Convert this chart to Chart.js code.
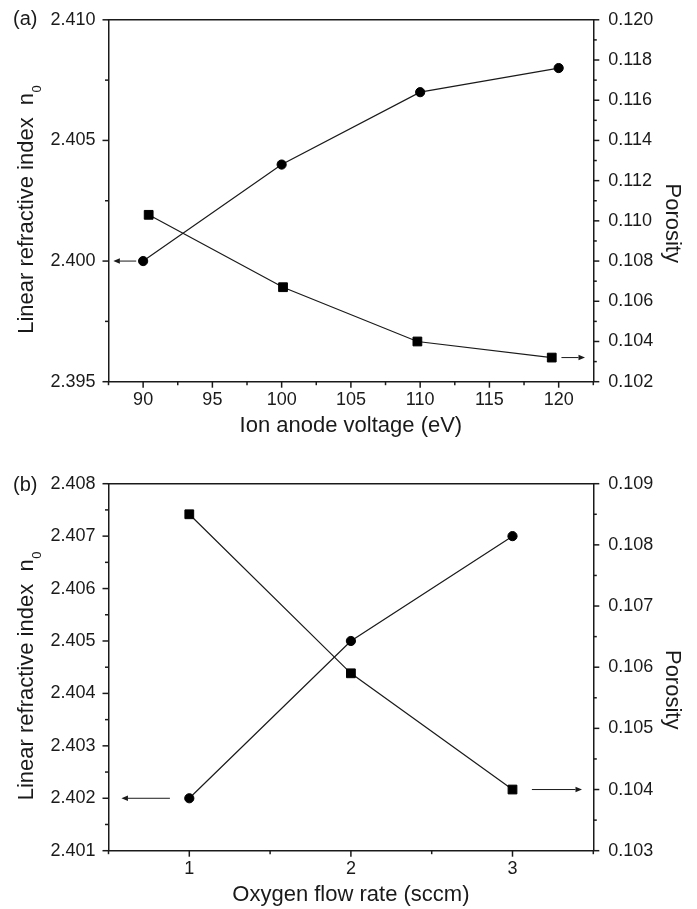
<!DOCTYPE html>
<html>
<head>
<meta charset="utf-8">
<title>Refractive index and porosity</title>
<script src="https://cdn.jsdelivr.net/npm/chart.js@4.4.1/dist/chart.umd.min.js"></script>
<style>
  html, body { margin: 0; padding: 0; background: #fff; }
  #wrap { position: relative; width: 697px; height: 909px; overflow: hidden; }
  canvas { position: absolute; left: 0; display: block; }
</style>
</head>
<body>
<div id="wrap">
  <canvas id="chartA" width="697" height="445" style="top:0"></canvas>
  <canvas id="chartB" width="697" height="464" style="top:445px"></canvas>
</div>
<script>
// ---- (a) ion anode voltage series ----
const voltage = [90, 100, 110, 120];
const indexVsVoltage = [2.400, 2.404, 2.407, 2.408];
const voltagePorosity = [90.4, 100.1, 109.8, 119.5];
const porosityVsVoltage = [0.1103, 0.1067, 0.1040, 0.1032];

// ---- (b) oxygen flow rate series ----
const oxygenFlow = [1, 2, 3];
const indexVsFlow = [2.402, 2.405, 2.407];
const porosityVsFlow = [0.1085, 0.1059, 0.1040];

// ---- tick labels ----
const voltageTicks = [90, 95, 100, 105, 110, 115, 120];
const indexTicksA = [2.395, 2.400, 2.405, 2.410];
const porosityTicksA = [0.102, 0.104, 0.106, 0.108, 0.110, 0.112, 0.114, 0.116, 0.118, 0.120];
const flowTicks = [1, 2, 3];
const indexTicksB = [2.401, 2.402, 2.403, 2.404, 2.405, 2.406, 2.407, 2.408];
const porosityTicksB = [0.103, 0.104, 0.105, 0.106, 0.107, 0.108, 0.109];

const FONT = "'Liberation Sans', Arial, Helvetica, sans-serif";
const INK = '#1a1a1a';

const pairs = (xs, ys) => xs.map((x, i) => ({ x, y: ys[i] }));

// minor ticks sit halfway between majors, out to the axis ends
function minorValues(majors, min, max) {
  const step = majors[1] - majors[0];
  const out = [];
  for (let i = -1; i < majors.length; i++) {
    const v = majors[0] + (i + 0.5) * step;
    if (v >= min - 1e-9 && v <= max + 1e-9) out.push(v);
  }
  return out;
}

// frame top edge, outward tick marks, axis arrows, y titles, panel letter
const panelDecor = {
  id: 'panelDecor',
  afterDraw(chart, args, opts) {
    const { ctx, chartArea: a, scales } = chart;
    ctx.save();
    ctx.strokeStyle = INK;
    ctx.fillStyle = INK;
    ctx.lineWidth = 1.5;
    ctx.lineCap = 'butt';

    ctx.beginPath();
    ctx.moveTo(a.left - 0.75, a.top);
    ctx.lineTo(a.right + 0.75, a.top);
    ctx.stroke();

    const marks = (scale, values, len) => {
      values.forEach(v => {
        const p = scale.getPixelForValue(v);
        ctx.beginPath();
        if (scale.axis === 'x') {
          ctx.moveTo(p, a.bottom); ctx.lineTo(p, a.bottom + len);
        } else if (scale.position === 'left') {
          ctx.moveTo(a.left, p); ctx.lineTo(a.left - len, p);
        } else {
          ctx.moveTo(a.right, p); ctx.lineTo(a.right + len, p);
        }
        ctx.stroke();
      });
    };
    Object.values(scales).forEach(s => {
      const majors = s.ticks.map(t => t.value);
      marks(s, majors, 6);
      marks(s, minorValues(majors, s.min, s.max), 3.5);
    });

    // arrows pointing to the axis each curve belongs to
    ctx.lineWidth = 1;
    opts.arrows.forEach(ar => {
      const y = scales[ar.axis].getPixelForValue(ar.at);
      const x0 = scales.x.getPixelForValue(ar.from);
      const x1 = scales.x.getPixelForValue(ar.to);
      const dir = Math.sign(x1 - x0);
      const head = 6.5;
      ctx.beginPath();
      ctx.moveTo(x0, y);
      ctx.lineTo(x1 - dir * head, y);
      ctx.stroke();
      ctx.beginPath();
      ctx.moveTo(x1, y);
      ctx.lineTo(x1 - dir * head, y - 2.7);
      ctx.lineTo(x1 - dir * head, y + 2.7);
      ctx.closePath();
      ctx.fill();
    });

    const midY = (a.top + a.bottom) / 2;

    // left title with subscript
    ctx.save();
    ctx.translate(32.5, midY + 9);
    ctx.rotate(-Math.PI / 2);
    ctx.textBaseline = 'alphabetic';
    ctx.textAlign = 'left';
    ctx.font = `22px ${FONT}`;
    const wMain = ctx.measureText(opts.leftTitle).width;
    ctx.font = `13px ${FONT}`;
    const wSub = ctx.measureText(opts.leftSub).width;
    const start = -(wMain + wSub) / 2;
    ctx.font = `22px ${FONT}`;
    ctx.fillText(opts.leftTitle, start, 0);
    ctx.font = `13px ${FONT}`;
    ctx.fillText(opts.leftSub, start + wMain + 0.5, 8.5);
    ctx.restore();

    // right title
    ctx.save();
    ctx.translate(666, midY + 22.5);
    ctx.rotate(Math.PI / 2);
    ctx.textBaseline = 'alphabetic';
    ctx.textAlign = 'center';
    ctx.font = `22px ${FONT}`;
    ctx.fillText(opts.rightTitle, 0, 0);
    ctx.restore();

    // panel letter
    ctx.textAlign = 'left';
    ctx.textBaseline = 'alphabetic';
    ctx.font = `20px ${FONT}`;
    ctx.fillText(opts.letter, 13, opts.letterY);

    ctx.restore();
  }
};

function tickAxis(values, digits) {
  return {
    afterBuildTicks: s => { s.ticks = values.map(v => ({ value: v })); },
    ticks: {
      autoSkip: false,
      maxRotation: 0,
      color: INK,
      font: { family: FONT, size: 18 },
      callback: v => digits === 0 ? String(v) : Number(v).toFixed(digits)
    },
    grid: { display: false, drawTicks: true, tickLength: 6 },
    border: { display: true, color: INK, width: 1.5 }
  };
}

function makePanel(canvasId, cfg) {
  const xAxis = tickAxis(cfg.xTicks, 0);
  xAxis.type = 'linear';
  xAxis.min = cfg.xMin; xAxis.max = cfg.xMax;
  xAxis.ticks.padding = 2;
  xAxis.afterFit = s => { s.height = cfg.xHeight; };
  xAxis.title = {
    display: true, text: cfg.xTitle, color: INK,
    font: { family: FONT, size: 22 },
    padding: { top: 0, bottom: cfg.xTitlePad }
  };

  const yAxis = tickAxis(cfg.yTicks, 3);
  yAxis.position = 'left';
  yAxis.min = cfg.yMin; yAxis.max = cfg.yMax;
  yAxis.ticks.padding = 7;
  yAxis.afterFit = s => { s.width = 108.5; };

  const y1Axis = tickAxis(cfg.y1Ticks, 3);
  y1Axis.position = 'right';
  y1Axis.min = cfg.y1Min; y1Axis.max = cfg.y1Max;
  y1Axis.ticks.padding = 9;
  y1Axis.afterFit = s => { s.width = 103.7; };

  const series = (data, axis, style, radius) => ({
    data, yAxisID: axis, showLine: true,
    borderColor: INK, borderWidth: 1.2,
    pointStyle: style, pointRadius: radius, pointHoverRadius: radius,
    pointBackgroundColor: '#000', pointBorderColor: '#000', pointBorderWidth: 1,
    tension: 0, clip: false
  });

  return new Chart(document.getElementById(canvasId), {
    type: 'scatter',
    data: {
      datasets: [
        series(cfg.indexData, 'y', 'circle', 4.6),
        series(cfg.porosityData, 'y1', 'rect', 6.2)
      ]
    },
    options: {
      responsive: false,
      animation: false,
      events: [],
      layout: { padding: { top: cfg.padTop, left: 0, right: 0, bottom: 0 } },
      scales: { x: xAxis, y: yAxis, y1: y1Axis },
      plugins: {
        legend: { display: false },
        tooltip: { enabled: false },
        panelDecor: {
          arrows: cfg.arrows,
          leftTitle: 'Linear refractive index  n',
          leftSub: '0',
          rightTitle: 'Porosity',
          letter: cfg.letter,
          letterY: cfg.letterY
        }
      }
    },
    plugins: [panelDecor]
  });
}

makePanel('chartA', {
  letter: '(a)', letterY: 24.5, padTop: 16, xHeight: 63.3, xTitlePad: 6,
  xMin: 87.5, xMax: 122.5, xTicks: voltageTicks, xTitle: 'Ion anode voltage (eV)',
  yMin: 2.395, yMax: 2.410, yTicks: indexTicksA,
  y1Min: 0.102, y1Max: 0.120, y1Ticks: porosityTicksA,
  indexData: pairs(voltage, indexVsVoltage),
  porosityData: pairs(voltagePorosity, porosityVsVoltage),
  arrows: [
    { axis: 'y', at: 2.400, from: 89.5, to: 87.85 },
    { axis: 'y1', at: 0.1032, from: 120.2, to: 121.9 }
  ]
});

makePanel('chartB', {
  letter: '(b)', letterY: 45.6, padTop: 38.7, xHeight: 58.3, xTitlePad: 0.5,
  xMin: 0.5, xMax: 3.5, xTicks: flowTicks, xTitle: 'Oxygen flow rate (sccm)',
  yMin: 2.401, yMax: 2.408, yTicks: indexTicksB,
  y1Min: 0.103, y1Max: 0.109, y1Ticks: porosityTicksB,
  indexData: pairs(oxygenFlow, indexVsFlow),
  porosityData: pairs(oxygenFlow, porosityVsFlow),
  arrows: [
    { axis: 'y', at: 2.402, from: 0.88, to: 0.58 },
    { axis: 'y1', at: 0.104, from: 3.12, to: 3.43 }
  ]
});
</script>
</body>
</html>
